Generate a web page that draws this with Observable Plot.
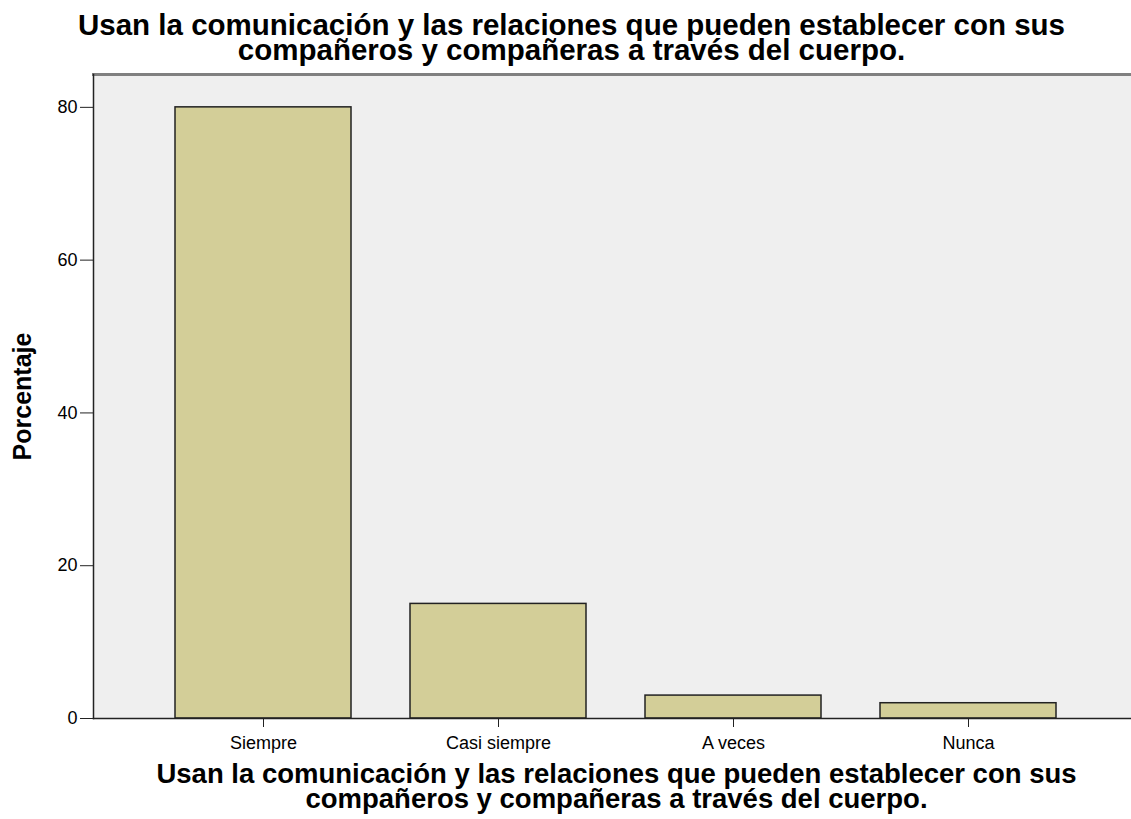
<!DOCTYPE html>
<html>
<head>
<meta charset="utf-8">
<script src="https://cdn.jsdelivr.net/npm/d3@7"></script>
<script src="https://cdn.jsdelivr.net/npm/@observablehq/plot@0.6"></script>
<style>
  html, body { margin: 0; padding: 0; background: #fff; }
  body { position: relative; width: 1131px; height: 819px; overflow: hidden; font-family: "Liberation Sans", Arial, sans-serif; }
  .ttl { position: absolute; left: 0; width: 1131px; text-align: center; font-weight: bold; color: #000; white-space: nowrap; }
  #top { top: 12px; font-size: 29.5px; line-height: 25px; padding-left: 12px; box-sizing: border-box; }
  #bottom { top: 761px; font-size: 27.5px; line-height: 25px; padding-left: 102px; box-sizing: border-box; }
  #chart { position: absolute; left: 0; top: 64px; }
</style>
</head>
<body>
<div id="chart"></div>
<div id="top" class="ttl">Usan la comunicación y las relaciones que pueden establecer con sus<br>compañeros y compañeras a través del cuerpo.</div>
<div id="bottom" class="ttl">Usan la comunicación y las relaciones que pueden establecer con sus<br>compañeros y compañeras a través del cuerpo.</div>
<script>
const categories = ["Siempre", "Casi siempre", "A veces", "Nunca"];
const porcentajes = [80, 15, 3, 2];
const yTicks = [0, 20, 40, 60, 80];
const yLabel = "Porcentaje";

const data = categories.map((c, i) => ({cat: c, pct: porcentajes[i]}));

const chart = Plot.plot({
  width: 1131,
  height: 696,
  marginTop: 10,
  marginBottom: 42,
  marginLeft: 93,
  marginRight: -8,
  style: {fontFamily: "Liberation Sans, Arial, sans-serif", background: "transparent", color: "#000"},
  x: {domain: categories, paddingInner: 0.25, paddingOuter: 0.345, label: null},
  y: {domain: [0, 84.3], label: null},
  marks: [
    Plot.frame({fill: "#efefef", stroke: null}),
    Plot.frame({anchor: "top", stroke: "#808080", strokeWidth: 3}),
    Plot.barY(data, {x: "cat", y: "pct", fill: "#d3ce98", stroke: "#222", strokeWidth: 1.5}),
    Plot.frame({anchor: "left", stroke: "#222", strokeWidth: 1.5}),
    Plot.frame({anchor: "bottom", stroke: "#222", strokeWidth: 1.5}),
    Plot.axisY({ticks: yTicks, tickSize: 13, tickPadding: 3, fontSize: 18, label: null, stroke: "#222"}),
    Plot.axisX({tickSize: 9, tickPadding: 9, fontSize: 18, label: null, stroke: "#222"}),
    Plot.text([yLabel], {frameAnchor: "left", textAnchor: "middle", rotate: -90, dx: -71, fontSize: 25, fontWeight: "bold", fill: "#000"})
  ]
});
document.getElementById("chart").appendChild(chart);
</script>
</body>
</html>
